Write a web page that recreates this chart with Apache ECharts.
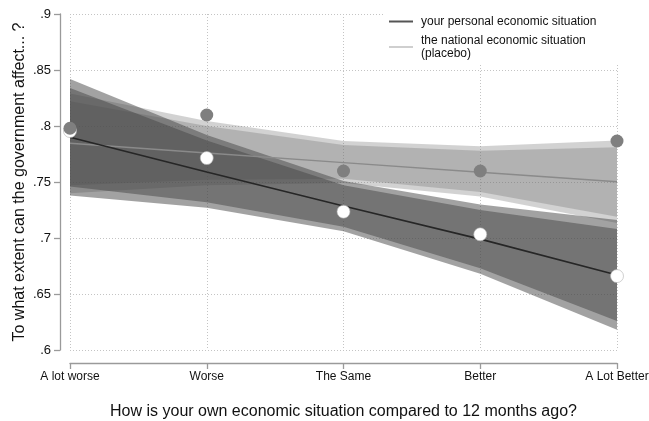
<!DOCTYPE html>
<html>
<head>
<meta charset="utf-8">
<script src="https://cdn.jsdelivr.net/npm/echarts@6/dist/echarts.min.js"></script>
<style>
  html, body { margin: 0; padding: 0; background: #fff; }
  #chart { width: 649px; height: 421px; }
</style>
</head>
<body>
<div id="chart"></div>
<script>
// Response categories on the x axis
const categories = ['A lot worse', 'Worse', 'The Same', 'Better', 'A Lot Better'];

// Personal economic situation: group means, linear fit and confidence bands
const personalMeans = [0.7955, 0.7714, 0.7235, 0.7033, 0.666];
const personalFit   = [0.790, 0.759, 0.7285, 0.699, 0.667];
const personalLo95  = [0.738, 0.727, 0.706, 0.668, 0.618];
const personalHi95  = [0.842, 0.792, 0.751, 0.730, 0.716];
const personalLo90  = [0.746, 0.732, 0.710, 0.673, 0.626];
const personalHi90  = [0.834, 0.787, 0.747, 0.725, 0.708];

// National economic situation (placebo): group means, linear fit and bands
const nationalMeans = [0.798, 0.8098, 0.7598, 0.7598, 0.7866];
const nationalFit   = [0.7845, 0.7759, 0.7673, 0.7588, 0.7503];
const nationalLo95  = [0.740, 0.747, 0.749, 0.737, 0.7135];
const nationalHi95  = [0.829, 0.8045, 0.7865, 0.782, 0.787];
const nationalLo90  = [0.747, 0.752, 0.753, 0.741, 0.719];
const nationalHi90  = [0.822, 0.800, 0.783, 0.778, 0.781];

// Y axis range and tick step
const yMin = 0.6, yMax = 0.9, yStep = 0.05;

const personalName = 'your personal economic situation';
const nationalName = 'the national economic situation';

// A band is a transparent lower bound plus a stacked, filled width on top of it
function band(id, lo, hi, fill, z) {
  return [
    {
      type: 'line', stack: id, data: lo, symbol: 'none', silent: true, z: z,
      lineStyle: { width: 0, opacity: 0 }
    },
    {
      type: 'line', stack: id, data: hi.map((v, i) => +(v - lo[i]).toFixed(5)),
      symbol: 'none', silent: true, z: z,
      lineStyle: { width: 0, opacity: 0 },
      areaStyle: { color: fill, opacity: 1 }
    }
  ];
}

const nationalFill = 'rgba(106,106,106,0.30)';
const personalFill = 'rgba(70,70,70,0.50)';

const chart = echarts.init(document.getElementById('chart'), null, { renderer: 'canvas' });

chart.setOption({
  animation: false,
  backgroundColor: '#fff',
  textStyle: { fontFamily: 'Liberation Sans, Arial, sans-serif' },
  grid: { left: 70, right: 32, top: 14, bottom: 71, containLabel: false, outerBoundsMode: 'none' },
  legend: {
    orient: 'vertical',
    left: 385,
    top: 10,
    padding: [5, 22, 5, 4],
    backgroundColor: '#fff',
    icon: 'rect',
    itemWidth: 24,
    itemHeight: 2,
    itemGap: 6,
    selectedMode: false,
    textStyle: { fontSize: 12, color: '#111', lineHeight: 13, padding: [0, 0, 0, 3] },
    formatter: name => name === nationalName ? name + '\n(placebo)' : name,
    data: [
      { name: personalName, itemStyle: { color: '#555555' } },
      { name: nationalName, itemStyle: { color: '#cfcfcf' } }
    ]
  },
  xAxis: {
    type: 'category',
    data: categories,
    boundaryGap: false,
    offset: 13,
    name: 'How is your own economic situation compared to 12 months ago?',
    nameLocation: 'middle',
    nameGap: 41,
    nameTextStyle: { fontSize: 16, color: '#111' },
    axisLine: { lineStyle: { color: '#9a9a9a', width: 1.3 } },
    axisTick: { show: true, length: 6, alignWithLabel: true, lineStyle: { color: '#9a9a9a', width: 1.3 } },
    axisLabel: { fontSize: 12, color: '#111', margin: 8, interval: 0 },
    splitLine: { show: true, lineStyle: { color: '#c4c4c4', type: [1, 2], width: 1 } }
  },
  yAxis: {
    type: 'value',
    min: yMin, max: yMax, interval: yStep,
    offset: 10,
    name: 'To what extent can the government affect... ?',
    nameLocation: 'middle',
    nameGap: 32,
    nameMoveOverlap: false,
    nameRotate: 90,
    nameTextStyle: { fontSize: 16, color: '#111' },
    axisLine: { show: true, lineStyle: { color: '#9a9a9a', width: 1.3 } },
    axisTick: { show: true, length: 6, lineStyle: { color: '#9a9a9a', width: 1.3 } },
    axisLabel: {
      fontSize: 13, color: '#111', margin: 9,
      formatter: v => (+v.toFixed(2)).toString().replace(/^0/, '')
    },
    splitLine: { show: true, lineStyle: { color: '#c4c4c4', type: [1, 2], width: 1 } }
  },
  series: [
    ...band('n95', nationalLo95, nationalHi95, nationalFill, 1),
    ...band('n90', nationalLo90, nationalHi90, nationalFill, 1),
    ...band('p95', personalLo95, personalHi95, personalFill, 2),
    ...band('p90', personalLo90, personalHi90, personalFill, 2),
    {
      name: nationalName, type: 'line', data: nationalFit, symbol: 'none', z: 3,
      lineStyle: { color: '#8a8a8a', width: 1.5 }
    },
    {
      name: personalName, type: 'line', data: personalFit, symbol: 'none', z: 4,
      lineStyle: { color: '#262626', width: 1.6 }
    },
    {
      type: 'scatter', data: personalMeans, symbolSize: 13, z: 5,
      itemStyle: { color: '#ffffff', borderColor: '#b0b0b0', borderWidth: 0.6, opacity: 1 }
    },
    {
      type: 'scatter', data: nationalMeans, symbolSize: 13, z: 6,
      itemStyle: { color: '#7f7f7f', opacity: 1 }
    }
  ]
});
</script>
</body>
</html>
